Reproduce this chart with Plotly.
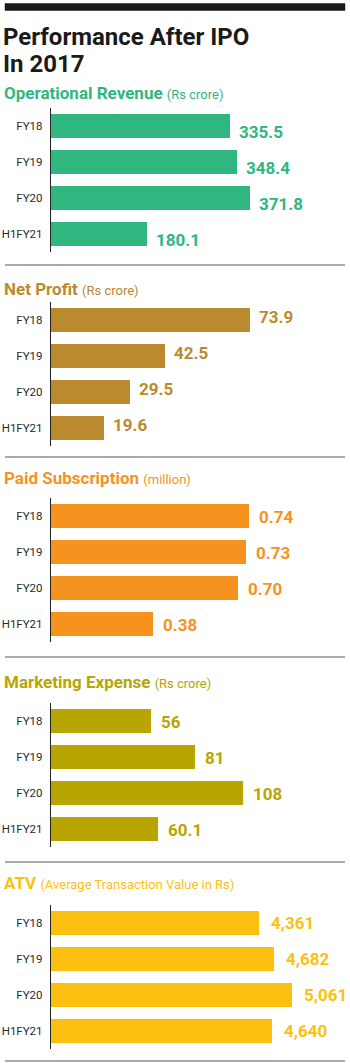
import plotly.graph_objects as go

W, H = 350, 1063

categories = ["FY18", "FY19", "FY20", "H1FY21"]

rev_values = [335.5, 348.4, 371.8, 180.1]
rev_labels = ["335.5", "348.4", "371.8", "180.1"]

profit_values = [73.9, 42.5, 29.5, 19.6]
profit_labels = ["73.9", "42.5", "29.5", "19.6"]

subs_values = [0.74, 0.73, 0.70, 0.38]
subs_labels = ["0.74", "0.73", "0.70", "0.38"]

mkt_values = [56, 81, 108, 60.1]
mkt_labels = ["56", "81", "108", "60.1"]

atv_values = [4361, 4682, 5061, 4640]
atv_labels = ["4,361", "4,682", "5,061", "4,640"]

main_title = ["Performance After IPO", "In 2017"]
panel_titles = ["Operational Revenue", "Net Profit", "Paid Subscription",
                "Marketing Expense", "ATV"]
panel_units = ["(Rs crore)", "(Rs crore)", "(million)", "(Rs crore)",
               "(Average Transaction Value in Rs)"]

# styling / layout (pixels)
colors = ["#2fb77f", "#bb8a2f", "#f6921e", "#b9a500", "#fdbf10"]
x_max = [560, 111.0, 1.117, 168.2, 6279]
axis_px = [(108, 252), (302, 446), (498, 642), (703, 847), (905, 1049)]
title_px = [93, 289, 478, 682, 883]
sep_px = [265, 457, 657, 862, 1061]
label_yshift = [-6, 3, -1, -1, 0]
label_xshift = [7, 7, 8, 8, 10]

series = [(rev_values, rev_labels), (profit_values, profit_labels),
          (subs_values, subs_labels), (mkt_values, mkt_labels),
          (atv_values, atv_labels)]

FONT = "Roboto"
x0_px = 51

def py(p):
    return 1 - p / H

fig = go.Figure()
annotations = []

for i, (vals, labs) in enumerate(series):
    n = i + 1
    xa = "x" if n == 1 else f"x{n}"
    ya = "y" if n == 1 else f"y{n}"
    fig.add_trace(go.Bar(
        x=vals, y=categories, orientation="h",
        marker=dict(color=colors[i], line=dict(width=0)),
        width=0.65, xaxis=xa, yaxis=ya, hoverinfo="skip",
        showlegend=False,
    ))
    top, bot = axis_px[i]
    fig.layout[f"xaxis{'' if n == 1 else n}"] = dict(
        domain=[x0_px / W, 1], range=[0, x_max[i]], visible=False,
        anchor=ya, fixedrange=True,
    )
    fig.layout[f"yaxis{'' if n == 1 else n}"] = dict(
        domain=[py(bot), py(top)], range=[3.5, -0.5], type="category",
        anchor=xa, showline=True, linecolor="#222", linewidth=1.3,
        showgrid=False, zeroline=False, ticks="",
        ticklabelstandoff=5,
        tickfont=dict(family=FONT, size=11.5, color="#2a2a2a"),
        fixedrange=True,
    )
    for v, lab, c in zip(vals, labs, categories):
        annotations.append(dict(
            x=v, y=c, xref=xa, yref=ya, text=lab, showarrow=False,
            xanchor="left", yanchor="middle",
            xshift=label_xshift[i], yshift=label_yshift[i],
            font=dict(family=FONT, size=17, color=colors[i], weight="bold"),
        ))
    annotations.append(dict(
        x=2 / W, y=py(title_px[i]), xref="paper", yref="paper",
        xanchor="left", yanchor="middle", showarrow=False,
        text=f"<b>{panel_titles[i]}</b> <span style='font-size:13px'>{panel_units[i]}</span>",
        font=dict(family=FONT, size=17, color=colors[i]),
    ))
    fig.add_shape(
        type="line", xref="paper", yref="paper", layer="above",
        x0=5 / W, x1=345 / W, y0=py(sep_px[i]), y1=py(sep_px[i]),
        line=dict(color="#555", width=1.2),
    )

# top black bar
fig.add_shape(type="rect", xref="paper", yref="paper", layer="above",
              x0=5 / W, x1=345 / W, y0=py(10.5), y1=py(3.5),
              fillcolor="#1a1a1a", line=dict(color="#1a1a1a", width=0.5))

for j, (t, yc) in enumerate(zip(main_title, [37, 64])):
    annotations.append(dict(
        x=1 / W, y=py(yc), xref="paper", yref="paper",
        xanchor="left", yanchor="middle", showarrow=False,
        text=t,
        font=dict(family=FONT, size=24, color="#1a1a1a", weight="bold"),
    ))

fig.update_layout(
    width=W, height=H, margin=dict(l=0, r=0, t=0, b=0),
    paper_bgcolor="white", plot_bgcolor="white",
    annotations=annotations, bargap=0,
)

fig.write_html("out.html", config={"displayModeBar": False})
